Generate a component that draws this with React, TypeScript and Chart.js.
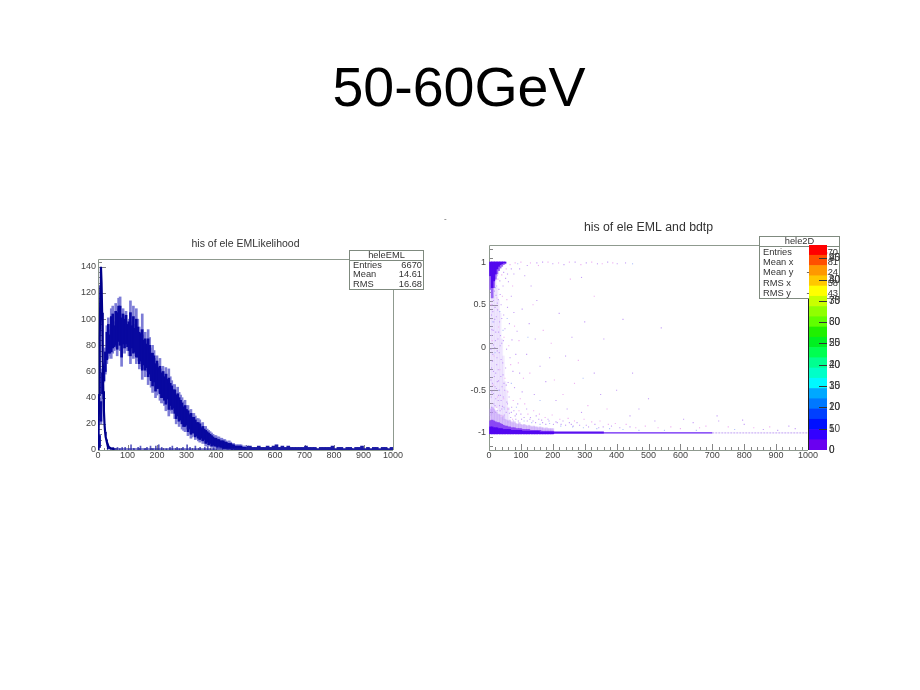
import React, { useEffect, useRef } from "react";
import { Chart, registerables } from "chart.js";

Chart.register(...registerables);

const FONT = "'Liberation Sans', Arial, sans-serif";

// ---------- left histogram ----------
const emlBinStart = 5;
const emlBinWidth = 5;
const spikeHi = [12,40,62,66,78,95,101,92,108,110,98,112,108,116,117,104,108,102,106,98,100,114,98,110,96,108,100,94,92,104,88,90,84,92,86,78,80,76,70,72,66,70,62,64,60,63,58,62,56,53,50,50,46,48,44,42,40,37,38,34,34,30,31,28,28,26,24,24,23,20,21,18,18,16,15,14,13,12,11,11,10,10,9,9,8,8,7,6,7,6,5,5,4,4,4,4,4,3,3,3];
const spikeLo = [2,20,40,52,58,66,70,72,70,74,76,78,72,80,76,64,78,74,78,76,72,66,76,70,72,66,68,62,64,54,62,56,60,50,54,48,44,48,40,42,44,38,36,36,34,30,36,26,30,28,30,24,20,22,18,20,16,15,14,16,11,13,9,10,11,8,9,7,6,7,5,6,3,4,3,4,2,3,2,2,1,2,1,1,1,1,1,0,1,0,0,1,0,0,0,0,0,0,0,0];
const coreHi = [11,37,59,64,75,90,96,88,102,104,95,106,105,110,110,101,104,100,103,96,98,105,95,102,93,100,94,90,89,92,84,85,81,85,80,74,74,72,66,68,63,64,59,60,56,58,54,55,51,49,46,46,42,43,40,38,36,33,34,31,30,27,28,25,25,23,21,21,20,17,18,16,15,14,13,12,11,10,9,9,8,8,7,7,7,6,6,5,5,5,4,4,3,3,3,3,3,2,2,2];
const coreLo = [2,22,43,53,60,69,74,74,75,78,79,80,77,83,80,71,81,78,81,79,76,72,78,74,75,71,71,66,68,61,65,61,63,56,58,53,49,52,45,47,47,43,40,40,38,35,39,31,34,31,32,28,24,26,22,23,20,18,18,19,14,16,12,13,13,10,11,9,8,9,7,8,5,6,4,5,3,4,3,3,2,3,2,2,1,1,1,1,1,1,0,1,0,0,0,0,0,0,0,0];
const tailX = [505,515,525,535,545,555,565,575,585,595,605,615,625,635,645,655,665,675,685,695,705,715,725,735,745,755,765,775,785,795,805,815,825,835,845,855,865,875,885,895,905,915,925,935,945,955,965,975,985,995];
const tailHi = [3,3,2,2,3,2,2,3,2,3,4,2,3,2,3,2,2,2,2,2,3,2,2,2,1,2,2,2,2,3,1,2,2,1,2,2,1,2,2,3,1,2,1,2,2,1,2,2,1,2];
const peakX = [0,2,4,6,8,10,12,14,16,18,20,22,24,26,28,30,32,35,38,42,46,50,55];
const peakY = [0,15,42,85,125,140,128,105,70,45,30,20,14,10,8,6,5,3,2,1.5,1,1,0];
const sparkX = [52,58,66,74,82,92,104,112,122,136,144,158,166,178,186,196,206,216,232,244,252,268,276,288,302,312,330,346,362,372,392];
const sparkY = [2,1,2,1,2,2,1,4,1,2,3,1,2,3,1,3,4,2,1,2,3,2,1,2,4,2,3,2,2,3,3];
const floorX = [30,60,1000];
const floorY = [1,0.8,0.5];

const emlXTicks = [0,100,200,300,400,500,600,700,800,900,1000];
const emlYMinor = [4,8,12,16];

// ---------- right 2-D plot ----------
const washX = [5,10,15,20,25,30,35,40,45,50,55,60];
const washLo = [-0.8,-0.78,-0.75,-0.7,-0.7,-0.75,-0.8,-0.82,-0.85,-0.84,-0.85,-0.88];
const washHi = [0.96,0.96,0.9,0.85,0.7,0.55,0.4,0.1,-0.1,-0.4,-0.5,-0.7];
const ridgeX = [5,10,15,20,25,30,35,40,45,50,55,60,65,70,75,80,85,90,95,100,105,110,115,120,125,130,135,140,145,150,155,160,165,170,175,180,185,190,195,200];
const ridgeLightTop = [-0.72,-0.7,-0.72,-0.74,-0.76,-0.78,-0.79,-0.82,-0.8,-0.84,-0.85,-0.86,-0.85,-0.87,-0.88,-0.87,-0.89,-0.9,-0.88,-0.9,-0.91,-0.9,-0.91,-0.92,-0.91,-0.92,-0.93,-0.92,-0.93,-0.93,-0.94,-0.93,-0.94,-0.94,-0.95,-0.94,-0.95,-0.95,-0.95,-0.95];
const ridgeMidTop = [-0.86,-0.85,-0.86,-0.87,-0.88,-0.88,-0.89,-0.9,-0.91,-0.92,-0.92,-0.93,-0.93,-0.94,-0.94,-0.94,-0.95,-0.95,-0.95,-0.95,-0.96,-0.96,-0.96,-0.96,-0.96,-0.97,-0.97,-0.97,-0.97,-0.97,-0.97,-0.97,-0.98,-0.98,-0.98,-0.98,-0.98,-0.98,-0.98,-0.98];
const ridgeDarkTop = [-0.93,-0.93,-0.94,-0.94,-0.94,-0.95,-0.95,-0.95,-0.96,-0.96,-0.96,-0.96,-0.96,-0.97,-0.97,-0.97,-0.97,-0.97,-0.97,-0.97,-0.98,-0.98,-0.98,-0.98,-0.98,-0.98,-0.98,-0.98,-0.98,-0.98,-0.98,-0.99,-0.99,-0.99,-0.99,-0.99,-0.99,-0.99,-0.99,-0.99];
const ridgeThickX = [5,360];
const ridgeThickY = [-0.995,-0.995];
const ridgeLineX = [5,700];
const ridgeLineY = [-1,-1];
const ridgeTailX = [700,1000];
const ridgeTailY = [-1,-1];
const blobX = [5,10,15,20,25,30,35,40,45,50];
const blobLightBottom = [0.68,0.58,0.7,0.8,0.86,0.9,0.93,0.95,0.97,0.98];
const blobDarkBottom = [0.84,0.7,0.78,0.86,0.92,0.95,0.97,0.98,0.99,0.99];

const lilacPoints: [number, number][] = [
[8,0.62],[14,0.55],[22,0.61],[31,0.68],[44,0.72],[52,0.81],[61,0.77],[38,0.5],[27,0.44],[12,0.42],[18,0.33],[33,0.3],[46,0.38],[58,0.47],[70,0.6],[9,0.21],[21,0.18],[36,0.14],[50,0.22],[64,0.28],[78,0.41],[14,0.03],[26,-0.04],[40,0.05],[55,-0.02],[72,0.09],[88,0.19],[11,-0.16],[24,-0.2],[38,-0.14],[52,-0.24],[66,-0.12],[84,-0.08],[17,-0.34],[30,-0.39],[44,-0.32],[60,-0.41],[75,-0.28],[96,-0.3],[9,-0.52],[23,-0.48],[36,-0.56],[49,-0.5],[63,-0.58],[80,-0.47],[104,-0.52],[15,-0.66],[29,-0.62],[42,-0.69],[56,-0.64],[71,-0.7],[90,-0.66],[118,-0.72],[20,-0.76],[35,-0.74],[48,-0.79],[64,-0.77],[82,-0.8],[100,-0.78],[130,-0.82],[148,-0.8],[165,-0.85],[185,-0.84],[210,-0.87],[232,-0.86],[258,-0.9],[276,-0.88],[305,-0.91],[332,-0.9],[358,-0.93],[384,-0.92],[410,-0.94],[442,-0.93],[120,0.96],[150,0.99],[168,1],[200,0.98],[235,0.97],[270,1],[305,0.99],[340,0.98],[372,1],[402,0.98],[428,0.99],[96,0.92],[112,0.84],[132,0.72],[150,0.55],[104,0.45],[126,0.28],[145,0.1],[118,-0.08],[160,-0.22],[178,-0.4],[142,-0.55],[210,-0.62],[245,-0.72],[290,-0.76],[220,0.4],[240,-0.1],[300,0.3],[330,-0.3],[360,0.1],[290,0.82],[420,0.33],[400,-0.5],[442,-0.8],[540,0.23],[470,-0.72],[520,-0.86],[610,-0.84],[640,-0.88],[715,-0.8],[720,-0.86],[800,-0.9],[795,-0.85],[940,-0.92],[860,-0.96],[905,-0.97],[960,-0.95],[500,-0.6],[450,-0.3],[350,-0.55],[260,0.12],[190,-0.12]
];
const pinkPoints: [number, number][] = [
[6,0.5],[16,0.74],[28,0.8],[40,0.85],[54,0.92],[66,0.97],[82,0.99],[100,1],[25,0.58],[42,0.6],[56,0.56],[74,0.72],[10,0.08],[30,0.24],[47,0.12],[62,0.02],[80,0.25],[94,0.08],[16,-0.1],[34,-0.26],[50,-0.36],[68,-0.2],[92,-0.18],[108,-0.36],[13,-0.44],[27,-0.58],[46,-0.6],[59,-0.52],[76,-0.62],[98,-0.6],[112,-0.66],[24,-0.7],[40,-0.8],[58,-0.72],[74,-0.84],[94,-0.74],[122,-0.78],[140,-0.74],[158,-0.78],[176,-0.82],[198,-0.79],[222,-0.84],[248,-0.83],[268,-0.86],[298,-0.84],[322,-0.87],[348,-0.86],[374,-0.9],[396,-0.89],[430,-0.9],[460,-0.94],[490,-0.92],[530,-0.94],[570,-0.93],[600,-0.95],[660,-0.94],[680,-0.92],[750,-0.93],[830,-0.94],[880,-0.93],[130,0.99],[155,0.96],[185,1],[218,0.99],[252,1],[288,0.97],[322,1],[355,0.98],[388,0.99],[138,0.5],[170,0.2],[195,0.05],[128,-0.3],[205,-0.38],[232,-0.55],[268,-0.42],[310,-0.68],[370,-0.72],[255,0.8],[280,-0.15],[330,0.6]
];
const bluePoints: [number, number][] = [
[20,0.7],[34,0.42],[12,0.3],[44,0.2],[19,-0.06],[57,0.34],[30,-0.5],[70,-0.42],[48,-0.72],[86,-0.7],[110,-0.86],[134,-0.88],[160,-0.9],[190,-0.89],[225,-0.92],[262,-0.93],[296,-0.94],[338,-0.95],[378,-0.95],[420,-0.96],[470,-0.97],[550,-0.97],[90,0.98],[160,-0.62],[295,-0.36],[122,0.12],[450,0.98],[650,-0.97],[770,-0.96]
];
const denseColumnPoints: [number, number][] = [
[7,0.68],[12,0.6],[17,0.66],[24,0.72],[29,0.56],[35,0.62],[10,0.5],[19,0.47],[26,0.52],[33,0.42],[8,0.38],[15,0.3],[23,0.36],[30,0.18],[40,0.34],[7,0.14],[13,0.2],[20,0.08],[28,0.1],[35,0.02],[45,0.08],[6,-0.02],[12,-0.08],[18,0.0],[25,-0.12],[32,-0.06],[43,-0.18],[8,-0.24],[14,-0.28],[21,-0.3],[29,-0.26],[37,-0.34],[47,-0.42],[6,-0.38],[11,-0.42],[19,-0.46],[26,-0.4],[33,-0.5],[41,-0.46],[54,-0.44],[7,-0.58],[14,-0.54],[21,-0.6],[30,-0.56],[38,-0.62],[45,-0.58],[58,-0.66],[8,-0.7],[13,-0.72],[19,-0.68],[26,-0.74],[33,-0.68],[40,-0.72],[47,-0.7],[54,-0.76],[62,-0.72],[70,-0.76],[78,-0.74],[86,-0.78],[10,0.78],[18,0.8],[26,0.84],[34,0.78],[46,0.88],[58,0.86],[70,0.92],[78,0.86],
[68,-0.82],[76,-0.86],[84,-0.84],[92,-0.86],[102,-0.84],[110,-0.82],[120,-0.86],[128,-0.84],[138,-0.86],[146,-0.88],[156,-0.84],[168,-0.88],[178,-0.9],[188,-0.86],[202,-0.9],[214,-0.88],[226,-0.9],[240,-0.91],[252,-0.88],[264,-0.92],[284,-0.91],[312,-0.93],[344,-0.94]
];

// ---------- colour bar ----------
const zBands = ["#6a00f0","#3300ff","#0010ff","#0040ff","#0078ff","#00a8ff","#00f8ff","#00ffc8","#00ff90","#00ff50","#00f020","#20f000","#60ff00","#90ff00","#c8ff00","#ffff00","#ffc800","#ff9800","#ff5000","#ff0000"];
const zLabelsA = [0,10,20,30,40,50,60,70,80,90];
const zLabelsB = [0,5,10,15,20,25,30,35,40,45];
const zMax = 96.2;

// ---------- text ----------
const slideTitle = "50-60GeV";
const leftTitle = "his of ele EMLikelihood";
const rightTitle = "his of ele EML and bdtp";
const leftStatsName = "heleEML";
const leftStats: [string, string][] = [["Entries","6670"],["Mean","14.61"],["RMS","16.68"]];
const rightStatsName = "hele2D";
const rightStats: [string, string][] = [["Entries","6670"],["Mean x","24.81"],["Mean y","-0.6224"],["RMS x","34.58"],["RMS y","-0.6143"]];

const range = (n: number, start: number, step: number) => Array.from({ length: n }, (_, i) => start + i * step);

function frameAndTicks(opts: { xMinor: number[]; xMajor: number[]; yMinor: number[]; yMajor: number[]; xMajorLen: number; xMinorLen: number; yMajorLen: number; yMinorLen: number; right: string }) {
  return {
    id: "rootFrame",
    beforeDatasetsDraw(chart: any) {
      const { ctx, chartArea: a, scales } = chart;
      ctx.save();
      ctx.lineWidth = 1;
      ctx.strokeStyle = "#858585";
      ctx.beginPath();
      for (const v of opts.xMajor) { const p = Math.round(scales.x.getPixelForValue(v)) + 0.5; ctx.moveTo(p, a.bottom); ctx.lineTo(p, a.bottom - opts.xMajorLen); }
      for (const v of opts.xMinor) { const p = Math.round(scales.x.getPixelForValue(v)) + 0.5; ctx.moveTo(p, a.bottom); ctx.lineTo(p, a.bottom - opts.xMinorLen); }
      for (const v of opts.yMajor) { const p = Math.round(scales.y.getPixelForValue(v)) + 0.5; ctx.moveTo(a.left, p); ctx.lineTo(a.left + opts.yMajorLen, p); }
      for (const v of opts.yMinor) { const p = Math.round(scales.y.getPixelForValue(v)) + 0.5; ctx.moveTo(a.left, p); ctx.lineTo(a.left + opts.yMinorLen, p); }
      ctx.stroke();
      ctx.strokeStyle = "#8f9a8f";
      ctx.beginPath();
      ctx.moveTo(a.left + 0.5, a.bottom); ctx.lineTo(a.left + 0.5, a.top + 0.5); ctx.lineTo(a.right, a.top + 0.5);
      ctx.moveTo(a.left, a.bottom + 0.5); ctx.lineTo(a.right, a.bottom + 0.5);
      ctx.stroke();
      ctx.strokeStyle = opts.right;
      ctx.beginPath();
      ctx.moveTo(a.right + 0.5, a.top); ctx.lineTo(a.right + 0.5, a.bottom);
      ctx.stroke();
      ctx.restore();
    },
  };
}

const tickFont = { family: FONT, size: 9 };
const TICK = "#444";

function makeLeft(cv: HTMLCanvasElement) {
  const binX = spikeHi.map((_, i) => emlBinStart + i * emlBinWidth);
  const bar = (data: any[], color: string, w: number, order: number) => ({ type: "bar", data, backgroundColor: color, barThickness: w, grouped: false, order });
  return new Chart(cv, {
    type: "bar",
    data: {
      datasets: [
        { type: "line", order: 0, data: peakX.map((x, i) => ({ x, y: peakY[i] })), borderColor: "#00008b", borderWidth: 2.2, pointRadius: 0, tension: 0 },
        { type: "line", order: 1, data: floorX.map((x, i) => ({ x, y: floorY[i] })), borderColor: "#1a1aa0", borderWidth: 1.2, pointRadius: 0 },
        bar(binX.map((x, i) => ({ x, y: [coreLo[i], coreHi[i]] })), "#0808a0", 2, 2),
        bar(binX.map((x, i) => ({ x, y: [spikeLo[i], spikeHi[i]] })), "#7c7cd6", 2, 3),
        bar(tailX.map((x, i) => ({ x, y: [0, tailHi[i]] })), "#1a1aa4", 3, 4),
        bar(sparkX.map((x, i) => ({ x, y: [0, sparkY[i]] })), "#5a5ac0", 1, 5),
      ] as any,
    },
    options: {
      animation: false, responsive: false,
      layout: { padding: { right: 39 } },
      plugins: {
        legend: { display: false }, tooltip: { enabled: false },
        title: { display: true, fullSize: false, text: leftTitle, color: "#333", font: { family: FONT, size: 10.5, weight: "normal", lineHeight: 1 }, padding: { top: 8.5, bottom: 10 } },
      },
      scales: {
        x: { type: "linear", min: 0, max: 1000, offset: false, grid: { display: false, offset: false, drawTicks: false }, border: { display: false },
          ticks: { stepSize: 100, autoSkip: false, maxRotation: 0, font: tickFont, color: TICK, padding: 0, callback: (v: any) => String(v) },
          afterFit: (s: any) => { s.height = 20; } },
        y: { min: 0, max: 146, grid: { display: false, drawTicks: false }, border: { display: false },
          ticks: { stepSize: 20, includeBounds: false, font: tickFont, color: TICK, padding: 2 },
          afterFit: (s: any) => { s.width = 38; } },
      },
    } as any,
    plugins: [frameAndTicks({ xMajor: emlXTicks, xMinor: range(51, 0, 20), yMajor: range(8, 0, 20), yMinor: emlYMinor.flatMap((d) => range(8, d, 20)).filter((v) => v < 146), xMajorLen: 5, xMinorLen: 2, yMajorLen: 8, yMinorLen: 4, right: "#8f9a8f" })],
  });
}

function makeRight(cv: HTMLCanvasElement) {
  const bar = (data: any[], color: string, w: number, order: number) => ({ type: "bar", data, backgroundColor: color, barThickness: w, grouped: false, order });
  const pts = (list: [number, number][], color: string, order: number) => ({ type: "scatter", order, data: list.map(([x, y]) => ({ x, y })), backgroundColor: color, borderWidth: 0, pointStyle: "rect", pointRadius: 0.8 });
  return new Chart(cv, {
    type: "bar",
    data: {
      datasets: [
        bar(blobX.map((x, i) => ({ x, y: [blobDarkBottom[i], 1] })), "#5208ee", 2, 0),
        bar(blobX.map((x, i) => ({ x, y: [blobLightBottom[i], 1] })), "#9a66f4", 2, 1),
        bar(ridgeX.map((x, i) => ({ x, y: [-1.01, ridgeDarkTop[i]] })), "#5206f0", 2, 2),
        bar(ridgeX.map((x, i) => ({ x, y: [-1.01, ridgeMidTop[i]] })), "#8a48f4", 2, 3),
        { type: "line", order: 4, data: ridgeThickX.map((x, i) => ({ x, y: ridgeThickY[i] })), borderColor: "#5a10f0", borderWidth: 2, pointRadius: 0 },
        { type: "line", order: 5, data: ridgeLineX.map((x, i) => ({ x, y: ridgeLineY[i] })), borderColor: "#6a20f4", borderWidth: 1.3, pointRadius: 0 },
        { type: "line", order: 6, data: ridgeTailX.map((x, i) => ({ x, y: ridgeTailY[i] })), borderColor: "#c0a0f4", borderWidth: 1, borderDash: [2, 1], pointRadius: 0 },
        pts(bluePoints, "#b4c4fb", 7),
        pts(pinkPoints, "#eeb0f2", 8),
        pts(lilacPoints, "#c6a0f7", 9),
        pts(denseColumnPoints, "#c4a0f8", 10),
        bar(ridgeX.map((x, i) => ({ x, y: [-1.01, ridgeLightTop[i]] })), "rgba(190,150,248,0.5)", 2, 11),
        bar(washX.map((x, i) => ({ x, y: [washLo[i], washHi[i]] })), "rgba(200,170,250,0.22)", 2, 12),
      ] as any,
    },
    options: {
      animation: false, responsive: false,
      layout: { padding: { right: 50 } },
      plugins: {
        legend: { display: false }, tooltip: { enabled: false },
        title: { display: true, fullSize: false, text: rightTitle, color: "#333", font: { family: FONT, size: 12.3, weight: "normal", lineHeight: 1 }, padding: { top: 6.7, bottom: 11 } },
      },
      scales: {
        x: { type: "linear", min: 0, max: 1000, offset: false, grid: { display: false, offset: false, drawTicks: false }, border: { display: false },
          ticks: { stepSize: 100, autoSkip: false, maxRotation: 0, font: tickFont, color: TICK, padding: 0, callback: (v: any) => String(v) },
          afterFit: (s: any) => { s.height = 15; } },
        y: { min: -1.2, max: 1.2, grid: { display: false, drawTicks: false }, border: { display: false },
          ticks: { stepSize: 0.5, includeBounds: false, font: tickFont, color: TICK, padding: 3, callback: (v: any) => String(v) },
          afterFit: (s: any) => { s.width = 49; } },
      },
    } as any,
    plugins: [frameAndTicks({ xMajor: emlXTicks, xMinor: range(51, 0, 20), yMajor: [-1, -0.5, 0, 0.5, 1], yMinor: range(24, -1.15, 0.1), xMajorLen: 6, xMinorLen: 3, yMajorLen: 9, yMinorLen: 4, right: "#222" })],
  });
}

function makeBar(cv: HTMLCanvasElement) {
  const step = zMax / zBands.length;
  return new Chart(cv, {
    type: "bar",
    data: {
      labels: ["z"],
      datasets: zBands.map((c) => ({ data: [step], backgroundColor: c, barPercentage: 1, categoryPercentage: 1, stack: "z", borderWidth: 0 })),
    },
    options: {
      animation: false, responsive: false,
      layout: { padding: { left: 9, top: 5, bottom: 15, right: 0 } },
      plugins: { legend: { display: false }, tooltip: { enabled: false } },
      scales: {
        x: { display: false, stacked: true },
        y: { position: "right", stacked: true, min: 0, max: zMax, grid: { display: false, drawTicks: false }, border: { display: false },
          ticks: { display: false }, afterFit: (s: any) => { s.width = 23; } },
      },
    } as any,
    plugins: [{
      id: "zAxis",
      afterDatasetsDraw(chart: any) {
        const { ctx, chartArea: a, scales } = chart;
        ctx.save();
        ctx.strokeStyle = "#333"; ctx.lineWidth = 1;
        ctx.font = `10px ${FONT}`; ctx.fillStyle = "#3a3a3a"; ctx.textBaseline = "middle"; ctx.textAlign = "left";
        zLabelsA.forEach((v, i) => {
          const p = Math.round(scales.y.getPixelForValue(v)) + 0.5;
          if (v > 0) { ctx.beginPath(); ctx.moveTo(a.right, p); ctx.lineTo(a.right - 8, p); ctx.stroke(); }
          ctx.fillText(String(v), a.right + 2, p);
          ctx.fillText(String(zLabelsB[i]), a.right + 2, p);
        });
        ctx.restore();
      },
    }],
  });
}

const SOFT = "blur(0.35px)";

function Stats(p: { left: number; top: number; width: number; height: number; head: number; name: string; rows: [string, string][] }) {
  return (
    <div style={{ position: "absolute", left: p.left, top: p.top, width: p.width, height: p.height, boxSizing: "border-box", background: "#fff", border: "1px solid #7f8a7f", font: `9.3px ${FONT}`, color: "#333", filter: SOFT }}>
      <div style={{ height: p.head, lineHeight: `${p.head}px`, textAlign: "center", borderBottom: "1px solid #7f8a7f" }}>{p.name}</div>
      <div style={{ padding: "0 1px 0 3px" }}>
        {p.rows.map(([k, v]) => (
          <div key={k} style={{ display: "flex", justifyContent: "space-between", height: (p.height - p.head - 3) / p.rows.length, lineHeight: `${(p.height - p.head - 3) / p.rows.length}px`, whiteSpace: "nowrap" }}>
            <span>{k}</span><span>{v}</span>
          </div>
        ))}
      </div>
    </div>
  );
}

export default function App() {
  const l = useRef<HTMLCanvasElement>(null);
  const r = useRef<HTMLCanvasElement>(null);
  const z = useRef<HTMLCanvasElement>(null);
  useEffect(() => {
    const charts = [makeLeft(l.current!), makeRight(r.current!), makeBar(z.current!)];
    return () => charts.forEach((c) => c.destroy());
  }, []);
  const abs = (left: number, top: number): React.CSSProperties => ({ position: "absolute", left, top, display: "block", filter: SOFT });
  return (
    <div style={{ position: "fixed", left: 0, top: 0, width: 920, height: 690, background: "#fff", overflow: "hidden" }}>
      <div style={{ position: "absolute", left: 0, width: 918, top: 54, textAlign: "center", font: `55.5px/66px ${FONT}`, color: "#000" }}>{slideTitle}</div>
      <canvas ref={l} width={372} height={240} style={abs(60, 230)} />
      <canvas ref={r} width={418} height={250} style={abs(440, 215)} />
      <Stats left={349} top={250} width={75} height={40} head={9} name={leftStatsName} rows={leftStats} />
      <Stats left={759} top={236} width={81} height={63} head={9} name={rightStatsName} rows={rightStats} />
      <canvas ref={z} width={50} height={225} style={abs(800, 240)} />
      <div style={{ position: "absolute", left: 444, top: 214, font: `8px ${FONT}`, color: "#555" }}>-</div>
    </div>
  );
}
